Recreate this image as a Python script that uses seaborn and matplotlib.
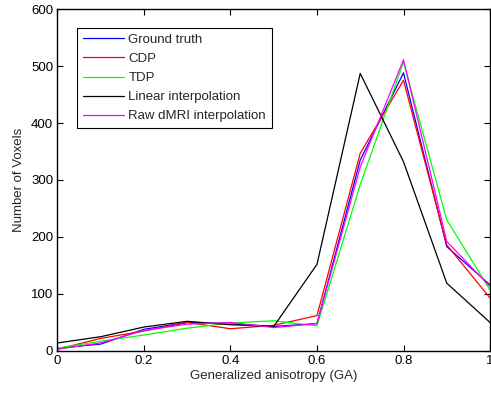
import numpy as np
import pandas as pd
import matplotlib
matplotlib.use("Agg")
import matplotlib.pyplot as plt
import seaborn as sns

ga = [0.0, 0.1, 0.2, 0.3, 0.4, 0.5, 0.6, 0.7, 0.8, 0.9, 1.0]
ground_truth = [5, 12, 38, 50, 48, 43, 48, 335, 488, 183, 116]
cdp = [3, 22, 35, 50, 39, 45, 62, 347, 475, 186, 93]
tdp = [5, 17, 28, 40, 49, 53, 44, 292, 507, 230, 107]
linear = [14, 25, 42, 52, 46, 43, 152, 487, 332, 119, 50]
raw_dmri = [3, 14, 36, 47, 50, 41, 48, 323, 511, 192, 113]

series_names = ["Ground truth", "CDP", "TDP", "Linear interpolation", "Raw dMRI interpolation"]
series_vals = [ground_truth, cdp, tdp, linear, raw_dmri]
colors = ["#0000ff", "#ff0000", "#00ff00", "#000000", "#ff00ff"]

df = pd.DataFrame({
    "GA": np.tile(ga, len(series_names)),
    "count": np.concatenate(series_vals),
    "series": np.repeat(series_names, len(ga)),
})

sns.set_style("white")
plt.rcParams["font.family"] = ["Liberation Sans", "DejaVu Sans"]

fig = plt.figure(figsize=(4.91, 3.93), dpi=100)
ax = fig.add_axes([0.117, 0.107, 0.881, 0.870])
sns.lineplot(data=df, x="GA", y="count", hue="series", hue_order=series_names,
             palette=colors, linewidth=0.9, ax=ax, legend=True)

ax.set_xlim(0, 1)
ax.set_ylim(0, 600)
ax.set_xticks([0, 0.2, 0.4, 0.6, 0.8, 1.0])
ax.set_xticklabels(["0", "0.2", "0.4", "0.6", "0.8", "1"])
ax.set_yticks([0, 100, 200, 300, 400, 500, 600])
ax.tick_params(direction="in", length=4, width=0.8, labelsize=9.5, top=True, right=True,
               bottom=True, left=True, pad=3, colors="black")
for s in ax.spines.values():
    s.set_linewidth(1.0)
    s.set_color("black")
ax.set_xlabel("Generalized anisotropy (GA)", fontsize=9.5, labelpad=2)
ax.set_ylabel("Number of Voxels", fontsize=9.5, labelpad=4)

leg = ax.legend(loc="upper left", bbox_to_anchor=(0.045, 0.945), borderaxespad=0,
                fontsize=9.5, frameon=True, fancybox=False, edgecolor="black", framealpha=1,
                handlelength=3.1, handletextpad=0.35, borderpad=0.45, labelspacing=0.52)
leg.get_frame().set_linewidth(0.8)

fig.savefig("out.png", dpi=100)
